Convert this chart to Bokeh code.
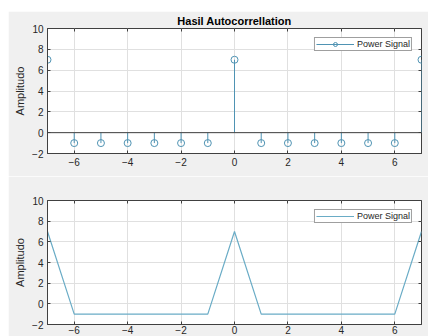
from bokeh.plotting import figure
from bokeh.models import Span, Range1d, FixedTicker, Legend, LegendItem, Title, Spacer, LinearAxis
from bokeh.layouts import column, row
from bokeh.embed import file_html
from bokeh.resources import INLINE

lags = [-7, -6, -5, -4, -3, -2, -1, 0, 1, 2, 3, 4, 5, 6, 7]
autocorr = [7, -1, -1, -1, -1, -1, -1, 7, -1, -1, -1, -1, -1, -1, 7]
zeros = [0] * len(lags)
x_ticks = [-6, -4, -2, 0, 2, 4, 6]
y_ticks = [-2, 0, 2, 4, 6, 8, 10]
title_text = "Hasil Autocorrellation"
series_name = "Power Signal"
y_label = "Amplitudo"

BG = "#f0f0f0"
STEM = "#4f93b3"
LINE = "#6aacc6"
AX = "#404040"
FONT = "Liberation Sans"


def mirror_axis(ticks):
    a = LinearAxis(ticker=FixedTicker(ticks=ticks))
    a.axis_line_color = None
    a.major_tick_in = 3
    a.major_tick_out = 0
    a.major_tick_line_color = AX
    a.minor_tick_line_color = None
    a.major_label_text_font_size = "1px"
    a.major_label_text_alpha = 0
    a.major_label_standoff = 0
    return a


def make_fig(height, top, bottom, xstand):
    p = figure(width=420, height=height, output_backend="svg", toolbar_location=None,
               x_range=Range1d(-7, 7), y_range=Range1d(-2, 10),
               min_border_left=39, min_border_right=7,
               min_border_top=top, min_border_bottom=bottom,
               background_fill_color="white", border_fill_color=BG,
               outline_line_color=AX, outline_line_width=1)
    p.xaxis.ticker = FixedTicker(ticks=x_ticks)
    p.yaxis.ticker = FixedTicker(ticks=y_ticks)
    for ax in (p.xaxis[0], p.yaxis[0]):
        ax.axis_line_color = AX
        ax.major_tick_in = 3
        ax.major_tick_out = 0
        ax.major_tick_line_color = AX
        ax.minor_tick_line_color = None
        ax.major_label_text_font = FONT
        ax.major_label_text_font_size = "10px"
        ax.major_label_text_color = "#262626"
        ax.major_label_standoff = 4
    p.xaxis.major_label_standoff = xstand
    p.yaxis.axis_label = y_label
    p.yaxis.axis_label_text_font = FONT
    p.yaxis.axis_label_text_font_style = "normal"
    p.yaxis.axis_label_text_font_size = "11px"
    p.yaxis.axis_label_text_color = "#262626"
    p.yaxis.axis_label_standoff = 3
    p.grid.grid_line_color = "#e0e0e0"
    p.grid.grid_line_width = 1
    p.add_layout(mirror_axis(x_ticks), "above")
    p.add_layout(mirror_axis(y_ticks), "right")
    return p


def style_legend(leg, glyph_w):
    leg.location = "top_right"
    leg.margin = 9
    leg.padding = 1
    leg.spacing = 0
    leg.label_standoff = 3
    leg.glyph_width = glyph_w
    leg.glyph_height = 10
    leg.label_height = 10
    leg.label_text_font = FONT
    leg.label_text_font_size = "9px"
    leg.label_text_color = "#262626"
    leg.border_line_color = AX
    leg.border_line_width = 1
    leg.background_fill_color = "white"
    leg.background_fill_alpha = 1


# Top: stem plot
p1 = make_fig(165, 17, 23, 4)
p1.add_layout(Title(text=title_text, align="center", text_font=FONT,
                    text_font_size="11px", text_font_style="bold",
                    text_color="#000000", standoff=3), "above")
p1.add_layout(Span(location=0, dimension="width", line_color=AX, line_width=1))
seg = p1.segment(x0=lags, y0=zeros, x1=lags, y1=autocorr, line_color=STEM, line_width=1)
mk = p1.scatter(x=lags, y=autocorr, marker="circle", size=7, line_color=STEM,
                line_width=1, fill_color=None)
leg1 = Legend(items=[LegendItem(label=series_name, renderers=[seg, mk])])
style_legend(leg1, 38)
p1.add_layout(leg1, "center")

# Bottom: line plot
p2 = make_fig(160, 24, 12, 1)
ln = p2.line(x=lags, y=autocorr, line_color=LINE, line_width=1.2)
leg2 = Legend(items=[LegendItem(label=series_name, renderers=[ln])])
style_legend(leg2, 38)
p2.add_layout(leg2, "center")

layout = row(Spacer(width=8, height=336),
             column(Spacer(height=11, width=420), p1, p2, spacing=0), spacing=0)
open("out.html", "w").write(file_html(layout, INLINE))
